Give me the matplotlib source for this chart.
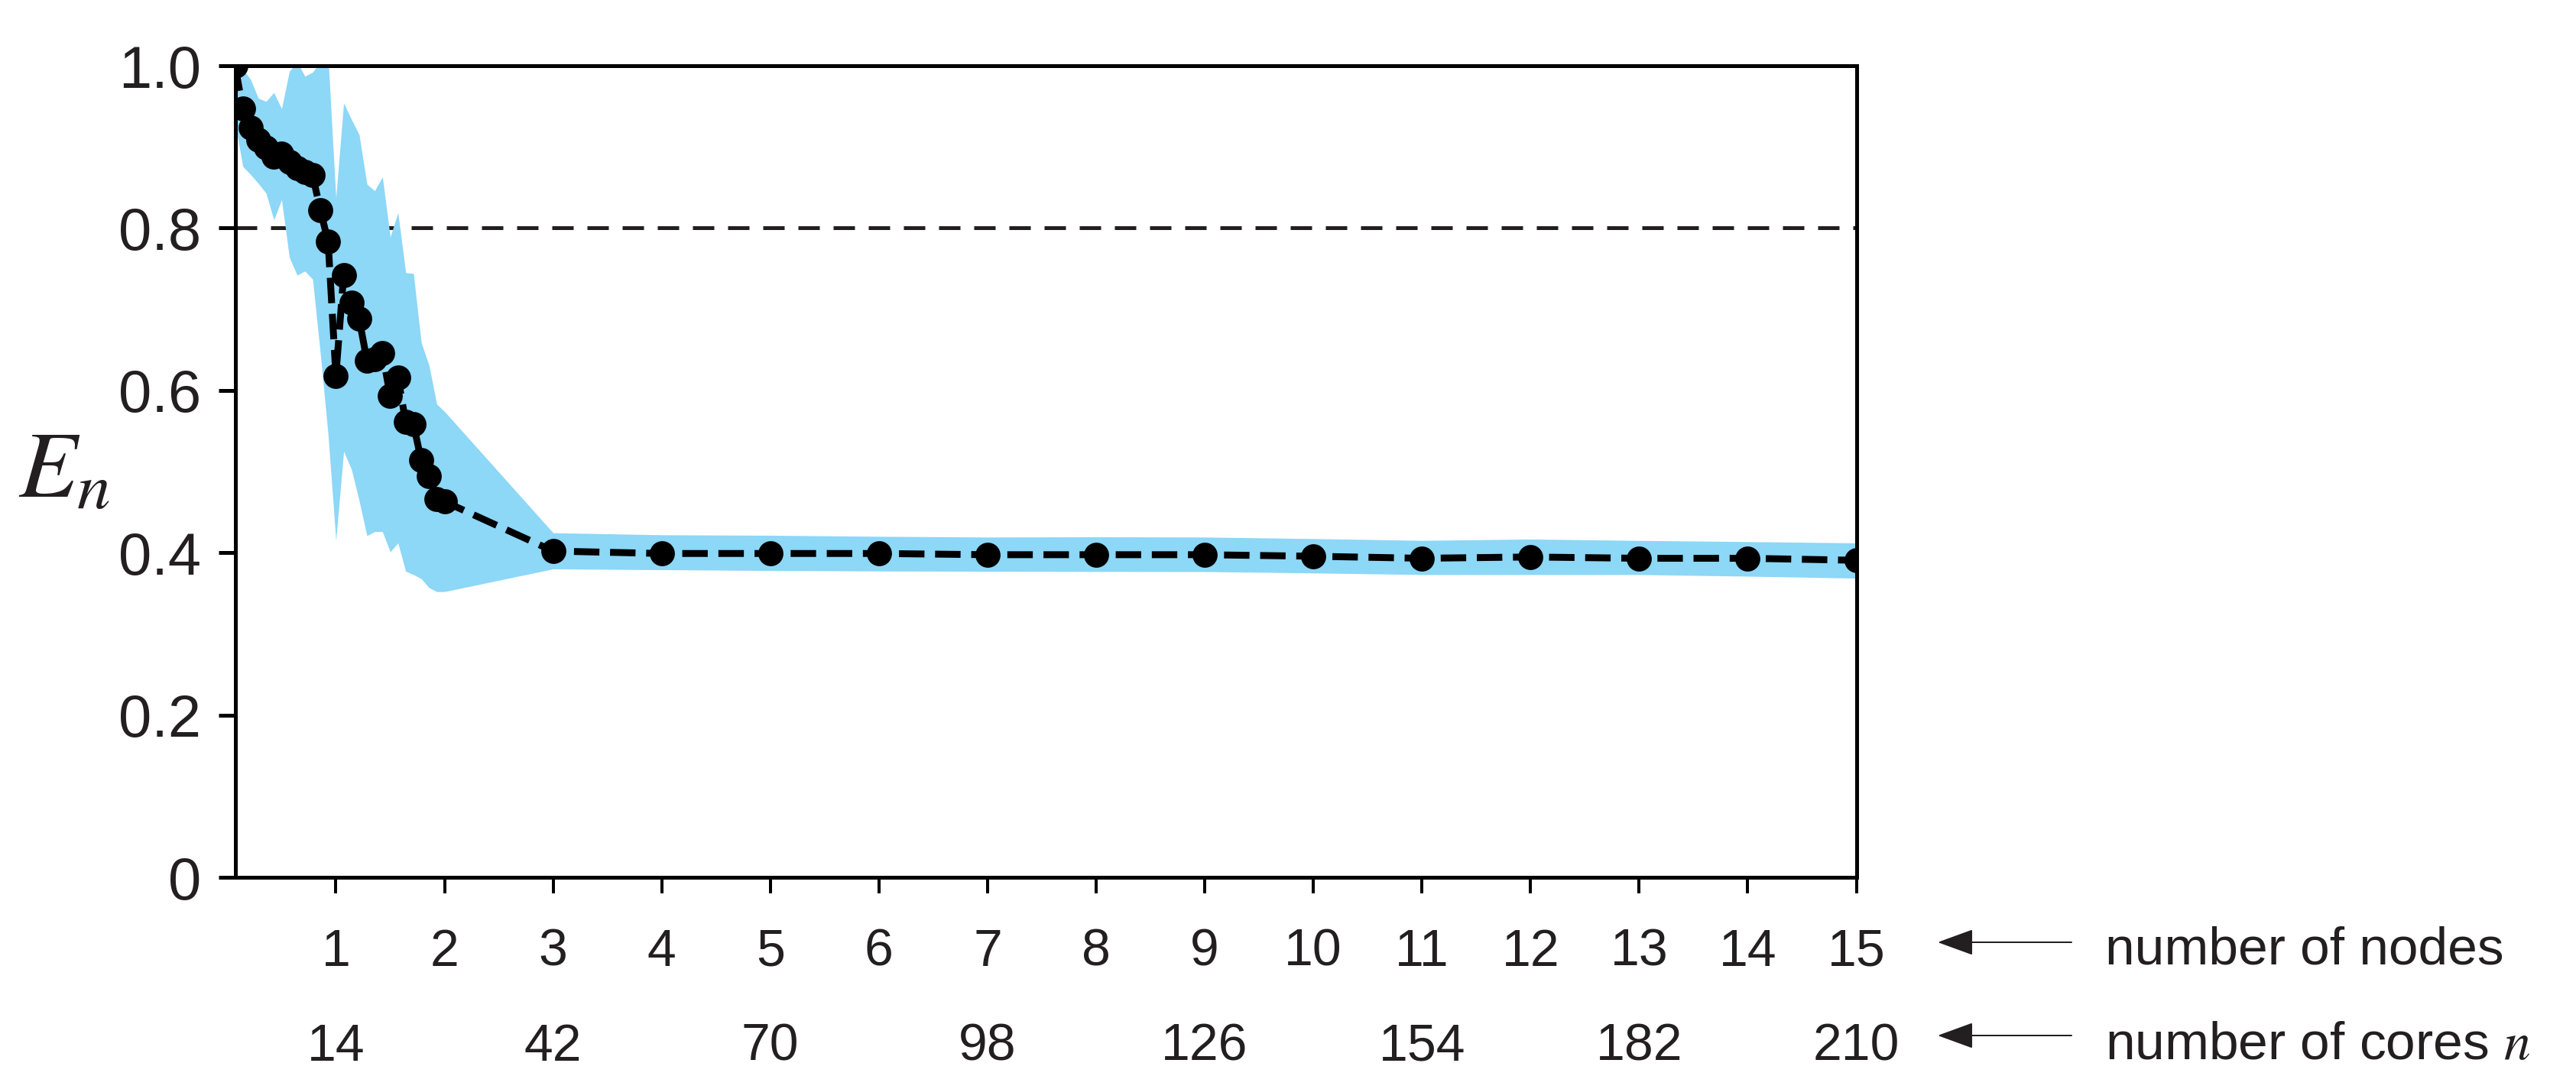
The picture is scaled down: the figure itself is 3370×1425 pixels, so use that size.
import matplotlib
matplotlib.use('Agg')
import matplotlib.pyplot as plt
import matplotlib.transforms as mtransforms
from matplotlib import font_manager as fm
from matplotlib.patches import FancyArrowPatch

# ---------------- data ----------------
cores = [1, 2, 3, 4, 5, 6, 7, 8, 9, 10, 11, 12, 13, 14, 15, 16, 17, 18, 19, 20,
         21, 22, 23, 24, 25, 26, 27, 28,
         42, 56, 70, 84, 98, 112, 126, 140, 154, 168, 182, 196, 210]
efficiency = [1.000, 0.947, 0.924, 0.909, 0.899, 0.888, 0.892, 0.881, 0.874, 0.869,
              0.865, 0.822, 0.783, 0.618, 0.742, 0.708, 0.688, 0.637, 0.638, 0.646,
              0.593, 0.616, 0.561, 0.558, 0.514, 0.494, 0.466, 0.463,
              0.402, 0.399, 0.399, 0.399, 0.3975, 0.3975, 0.3975, 0.3956, 0.3931,
              0.3947, 0.3931, 0.3931, 0.3906]
upper = [0.975, 0.996, 0.983, 0.960, 0.956, 0.967, 0.947, 0.993, 1.005, 0.987,
         0.992, 1.005, 1.010, 0.837, 0.954, 0.934, 0.915, 0.854, 0.846, 0.863,
         0.789, 0.819, 0.745, 0.744, 0.659, 0.631, 0.583, 0.574,
         0.4245, 0.422, 0.4214, 0.4201, 0.4192, 0.4195, 0.4192, 0.4173, 0.4151,
         0.4167, 0.415, 0.4136, 0.412]
lower = [0.930, 0.876, 0.866, 0.855, 0.843, 0.810, 0.835, 0.764, 0.742, 0.747,
         0.737, 0.645, 0.545, 0.415, 0.525, 0.503, 0.464, 0.421, 0.426, 0.426,
         0.401, 0.412, 0.377, 0.373, 0.368, 0.357, 0.352, 0.352,
         0.380, 0.379, 0.378, 0.3774, 0.377, 0.3768, 0.3767, 0.375, 0.373,
         0.373, 0.373, 0.371, 0.3686]
cores_per_node = 14
node_labels = ['1', '2', '3', '4', '5', '6', '7', '8', '9', '10', '11', '12', '13', '14', '15']
core_labels = ['14', '42', '70', '98', '126', '154', '182', '210']
y_ticks = [0, 0.2, 0.4, 0.6, 0.8, 1.0]
y_tick_labels = ['0', '0.2', '0.4', '0.6', '0.8', '1.0']
threshold = 0.8

# ---------------- fonts ----------------
plt.rcParams['mathtext.fontset'] = 'stix'
names = {f.name for f in fm.fontManager.ttflist}
base_font = 'Liberation Sans' if 'Liberation Sans' in names else 'DejaVu Sans'
narrow_font = 'Liberation Sans Narrow' if 'Liberation Sans Narrow' in names else None
plt.rcParams['font.family'] = [base_font, 'DejaVu Sans']

W, H, DPI = 3370, 1425, 200
PT = DPI / 72.0  # px per point


def fx(px):
    return px / W


def fy(py):
    return 1 - py / H


fig = plt.figure(figsize=(W / DPI, H / DPI), dpi=DPI)
ax = fig.add_axes([fx(307.5), fy(1148), (2428.5 - 307.5) / W, (1148 - 86) / H])

band_color = '#8dd7f7'
ax.axhline(threshold, color='#231f20', lw=5 / PT, ls=(0, (5.6, 3.6)), zorder=1)
ax.fill_between(cores, lower, upper, color=band_color, lw=0, zorder=2)
ax.plot(cores, efficiency, color='black', lw=9 / PT, ls=(0, (3.7, 1.55)),
        marker='o', ms=30 / PT, zorder=3)

ax.set_xlim(1, 210)
ax.set_ylim(0, 1.0)
for s in ax.spines.values():
    s.set_linewidth(5 / PT)
    s.set_color('black')

ax.set_yticks(y_ticks)
ax.set_yticklabels(y_tick_labels)
ax.tick_params(axis='y', direction='out', length=22 / PT, width=5 / PT, pad=8,
               labelsize=28, colors='black', labelcolor='#231f20')

node_pos = [cores_per_node * (i + 1) for i in range(len(node_labels))]
ax.set_xticks(node_pos)
ax.set_xticklabels([])
ax.tick_params(axis='x', direction='out', length=21 / PT, width=4 / PT, colors='black')

# bottom label rows
trans = mtransforms.blended_transform_factory(ax.transData, fig.transFigure)
if narrow_font:
    lab_kw = dict(family=[narrow_font, 'DejaVu Sans'], fontsize=28.5)
    right_kw = dict(family=[narrow_font, 'DejaVu Sans'], fontsize=29)
else:
    lab_kw = dict(fontsize=24.5)
    right_kw = dict(fontsize=25)

for pos, lab in zip(node_pos, node_labels):
    ax.text(pos, fy(1264), lab, transform=trans, ha='center', va='baseline',
            color='#231f20', **lab_kw)
core_pos = node_pos[0::2]
for pos, lab in zip(core_pos, core_labels):
    ax.text(pos, fy(1388), lab, transform=trans, ha='center', va='baseline',
            color='#231f20', **lab_kw)

# right side annotations with arrows
fig.text(fx(2754), fy(1262), 'number of nodes', ha='left', va='baseline',
         color='#231f20', **right_kw)
fig.text(fx(2754), fy(1386), 'number of cores $n$', ha='left', va='baseline',
         color='#231f20', **right_kw)
for yy in (1233, 1355):
    arr = FancyArrowPatch((fx(2710), fy(yy)), (fx(2535), fy(yy)),
                          transform=fig.transFigure,
                          arrowstyle='-|>,head_length=14.8,head_width=5.4',
                          mutation_scale=1, lw=2 / PT, color='#231f20',
                          shrinkA=0, shrinkB=0)
    fig.patches.append(arr)

# y-axis label
fig.text(fx(24), fy(650), r'$E_n$', fontsize=45, ha='left', va='baseline',
         color='#231f20')

fig.savefig('out.png', dpi=DPI, facecolor='white')
